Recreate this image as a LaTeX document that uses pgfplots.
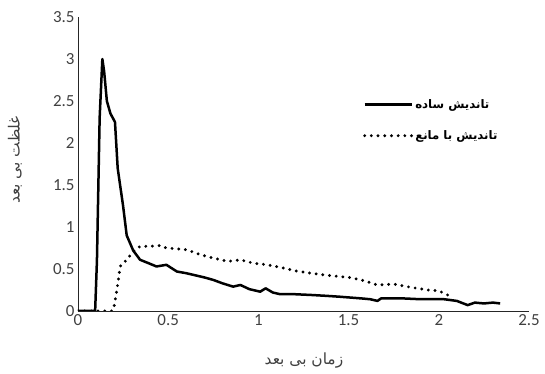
\documentclass[border=0pt]{standalone}
\usepackage{fontspec}
\setmainfont{Carlito}
\newfontfamily\arabicfont[Script=Arabic]{DejaVu Sans}
\TeXXeTstate=1
\usepackage{pgfplots}
\pgfplotsset{compat=1.18}
\definecolor{tickgray}{RGB}{64,64,64}
\newcommand\lab{\arabicfont\fontsize{15.5}{18}\selectfont\color{tickgray}}
\newcommand\leg{\arabicfont\bfseries\fontsize{11.8}{14}\selectfont}
\begin{document}
\begin{tikzpicture}
\begin{axis}[
  scale only axis,
  width=451bp, height=294bp,
  xmin=0, xmax=2.5, ymin=0, ymax=3.5,
  axis x line=bottom, axis y line=left,
  axis line style={-, line width=0.9bp, color=black!85},
  xtick={0,0.5,1,1.5,2,2.5},
  ytick={0,0.5,1,1.5,2,2.5,3,3.5},
  /pgf/number format/assume math mode=true,
  major tick length=0pt,
  every tick label/.append style={font=\fontsize{17}{19}\selectfont, tickgray},
  xlabel={\lab\beginR زمان بی بعد\endR},
  ylabel={\lab\beginR غلظت بی بعد\endR},
  xlabel style={at={(axis description cs:0.501,-0.17)}, anchor=center},
  ylabel style={at={(axis description cs:-0.14,0.514)}, anchor=center},
  legend style={at={(0.625,0.735)}, anchor=north west, draw=none, fill=none, row sep=17bp},
  legend cell align=left,
  legend image code/.code={\draw[#1] (0bp,0bp) -- (47bp,0bp);},
]
\addplot[black, line width=2.5bp, line join=round] coordinates {
(0,0) (0.095,0) (0.105,0.6) (0.12,2.3) (0.135,3.0) (0.145,2.85) (0.16,2.5) (0.18,2.35) (0.205,2.25)
(0.22,1.7) (0.25,1.25) (0.27,0.9) (0.306,0.72) (0.344,0.61) (0.39,0.57) (0.435,0.53) (0.49,0.55)
(0.548,0.47) (0.6,0.45) (0.64,0.43) (0.7,0.40) (0.75,0.37) (0.8,0.33) (0.86,0.29) (0.9,0.31)
(0.95,0.26) (1.01,0.23) (1.04,0.27) (1.08,0.22) (1.12,0.2) (1.2,0.2) (1.3,0.19) (1.38,0.18)
(1.45,0.17) (1.57,0.15) (1.62,0.14) (1.66,0.12) (1.68,0.15) (1.8,0.15) (1.9,0.14) (2.03,0.14)
(2.1,0.12) (2.16,0.07) (2.2,0.1) (2.25,0.09) (2.3,0.1) (2.34,0.09)
};
\addlegendentry{\leg\beginR تاندیش ساده\endR}
\addplot[black, line width=3.2bp, line cap=round, dash pattern=on 0pt off 6.7bp] coordinates {
(0,0) (0.19,0) (0.2,0.05) (0.215,0.25) (0.224,0.37) (0.233,0.53) (0.27,0.61) (0.307,0.71)
(0.344,0.77) (0.4,0.77) (0.455,0.78) (0.49,0.75) (0.55,0.74) (0.6,0.73) (0.68,0.67) (0.75,0.63)
(0.83,0.59) (0.9,0.61) (0.97,0.57) (1.05,0.55) (1.12,0.52) (1.2,0.48) (1.29,0.45) (1.4,0.42)
(1.5,0.40) (1.57,0.37) (1.66,0.31) (1.75,0.32) (1.85,0.28) (1.94,0.25) (2.0,0.24) (2.07,0.17)
};
\addlegendentry{\leg\beginR تاندیش با مانع\endR}
\end{axis}
\pgfresetboundingbox
\path[use as bounding box] (-78bp,-63bp) rectangle (467bp,311bp);
\end{tikzpicture}
\end{document}
